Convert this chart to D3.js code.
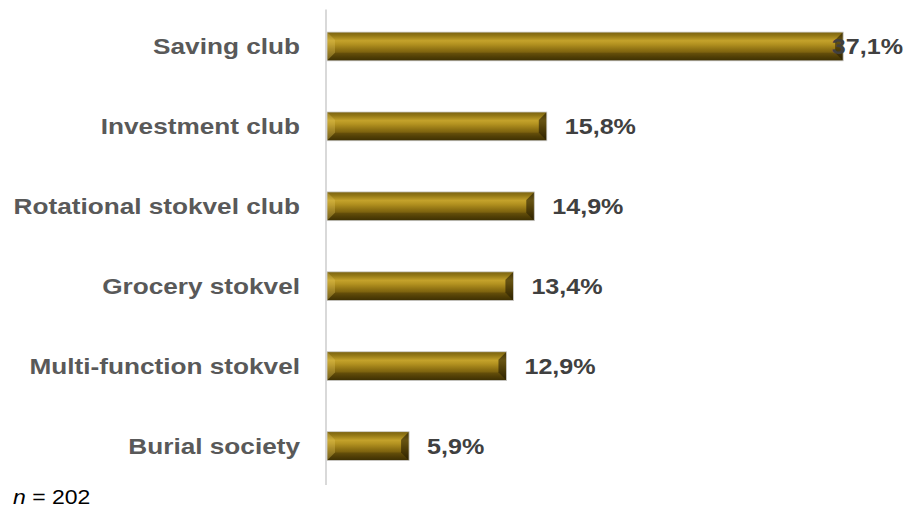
<!DOCTYPE html>
<html>
<head>
<meta charset="utf-8">
<script src="https://cdn.jsdelivr.net/npm/d3@7"></script>
<style>
  html, body { margin: 0; padding: 0; background: #fff; }
  svg { display: block; }
</style>
</head>
<body>
<svg id="chart" width="907" height="509"></svg>
<script>
// Stokvel types by share of respondents (%)
const categories = ["Saving club", "Investment club", "Rotational stokvel club", "Grocery stokvel", "Multi-function stokvel", "Burial society"];
const values = [37.1, 15.8, 14.9, 13.4, 12.9, 5.9];
const valueLabels = ["37,1%", "15,8%", "14,9%", "13,4%", "12,9%", "5,9%"];
const sampleNote = "202";

const W = 907, H = 509;
const svg = d3.select("#chart");

const x = d3.scaleLinear().domain([0, 40]).range([327, 883.5]);
const y = d3.scaleBand().domain(categories).range([6.5, 486]).padding(0);
const barH = y.bandwidth() * 0.36;

// Bar gradient and bevel facets
const defs = svg.append("defs");
const g1 = defs.append("linearGradient").attr("id", "gold").attr("x1", 0).attr("y1", 0).attr("x2", 0).attr("y2", 1);
[[0, "#7a6210"], [0.12, "#927716"], [0.3, "#c4a22b"], [0.42, "#b39220"], [0.62, "#8c6f12"], [0.85, "#604b08"], [1, "#453604"]]
  .forEach(([o, c]) => g1.append("stop").attr("offset", o).attr("stop-color", c));

// Vertical axis line
svg.append("line")
  .attr("x1", x(0) - 1).attr("x2", x(0) - 1)
  .attr("y1", 9.5).attr("y2", 485)
  .attr("stroke", "#d9d9d9").attr("stroke-width", 2);

const bars = svg.append("g").selectAll("g").data(categories).join("g");

bars.each(function (c, i) {
  const g = d3.select(this);
  const x0 = x(0), x1 = x(values[i]);
  const y0 = y(c) + (y.bandwidth() - barH) / 2, y1 = y0 + barH;
  const b = Math.min(8, (x1 - x0) / 2);
  g.append("rect")
    .attr("x", x0).attr("y", y0).attr("width", x1 - x0).attr("height", barH)
    .attr("fill", "url(#gold)");
  // left facet (lit)
  g.append("path")
    .attr("d", `M${x0},${y0}L${x0 + b},${y0 + b}L${x0 + b},${y1 - b}L${x0},${y1}Z`)
    .attr("fill", "rgba(235,205,100,0.28)");
  // right facet (shaded)
  g.append("path")
    .attr("d", `M${x1},${y0}L${x1 - b},${y0 + b}L${x1 - b},${y1 - b}L${x1},${y1}Z`)
    .attr("fill", "rgba(25,18,0,0.55)");
  // bottom facet
  g.append("path")
    .attr("d", `M${x0},${y1}L${x0 + b},${y1 - b}L${x1 - b},${y1 - b}L${x1},${y1}Z`)
    .attr("fill", "rgba(20,14,0,0.18)");
  g.append("rect")
    .attr("x", x0).attr("y", y0).attr("width", x1 - x0).attr("height", barH)
    .attr("fill", "none").attr("stroke", "#cfcfcf").attr("stroke-width", 0.8);
});

// Category labels
const catSX = 1.19;
svg.append("g").selectAll("text").data(categories).join("text")
  .attr("transform", d => `translate(300,${y(d) + y.bandwidth() / 2 + 8}) scale(${catSX},1)`)
  .attr("text-anchor", "end")
  .attr("font-family", "Liberation Sans, Arial, sans-serif")
  .attr("font-weight", "bold")
  .attr("font-size", 22)
  .attr("fill", "#595959")
  .text(d => d);

// Value labels
const valSX = 1.14;
svg.append("g").selectAll("text").data(categories).join("text")
  .attr("font-family", "Liberation Sans, Arial, sans-serif")
  .attr("font-weight", "bold")
  .attr("font-size", 22)
  .attr("fill", "#404040")
  .text((d, i) => valueLabels[i])
  .each(function (d, i) {
    const w = this.getComputedTextLength() * valSX;
    const tx = Math.min(x(values[i]) + 18, 903 - w);
    d3.select(this).attr("transform", `translate(${tx},${y(d) + y.bandwidth() / 2 + 8}) scale(${valSX},1)`);
  });

// Sample size note
const note = svg.append("text")
  .attr("transform", "translate(13,504) scale(1.15,1)")
  .attr("font-family", "Liberation Sans, Arial, sans-serif")
  .attr("font-size", 20)
  .attr("fill", "#000");
note.append("tspan").attr("font-style", "italic").text("n");
note.append("tspan").text(" = " + sampleNote);
</script>
</body>
</html>
